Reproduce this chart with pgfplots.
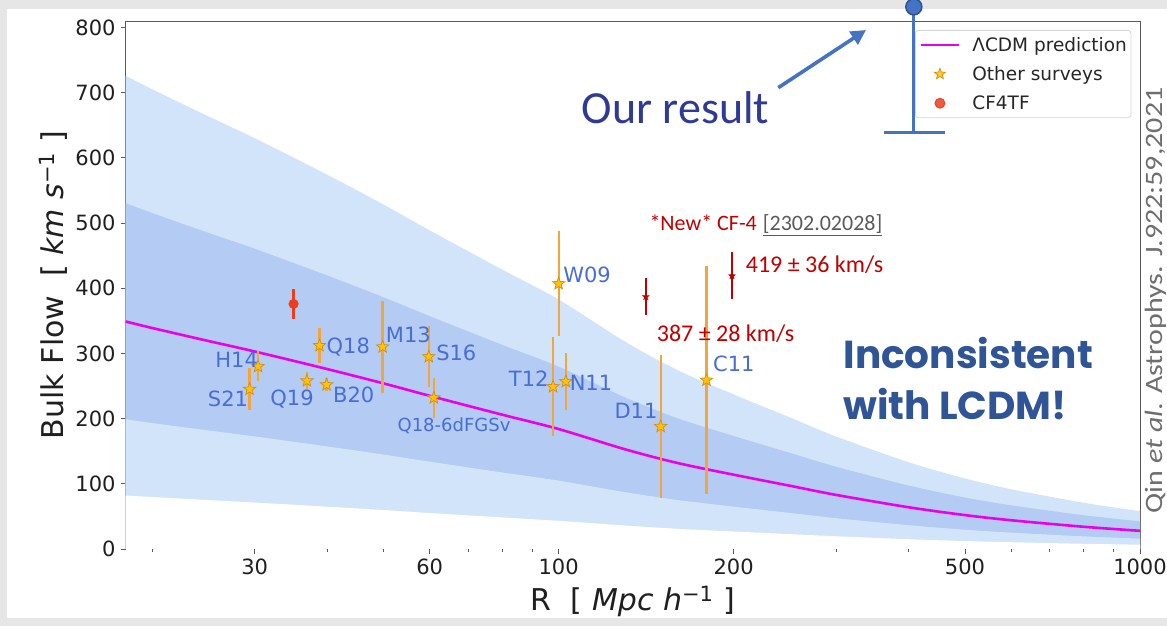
\documentclass[border=0pt]{standalone}
\usepackage{fontspec}
\usepackage{pgfplots}
\pgfplotsset{compat=1.18}
\usepackage{pgfplotstable}
\usetikzlibrary{arrows.meta}

\setmainfont{DejaVu Sans}
\newfontfamily\calibri{Carlito}
\newfontfamily\poster{Poppins}
\newcommand\fs[1]{\fontsize{#1}{#1}\selectfont}

\definecolor{bandout}{RGB}{209,228,250}
\definecolor{bandin}{RGB}{180,203,243}
\definecolor{lcdm}{RGB}{235,0,235}
\definecolor{errorange}{RGB}{243,165,60}
\definecolor{stargold}{RGB}{255,196,0}
\definecolor{staredge}{RGB}{214,140,20}
\definecolor{cffour}{RGB}{236,62,30}
\definecolor{newred}{RGB}{192,0,0}
\definecolor{labblue}{RGB}{72,110,214}
\definecolor{ourblue}{RGB}{68,114,196}
\definecolor{ouredge}{RGB}{47,82,143}
\definecolor{ourtext}{RGB}{46,58,150}
\definecolor{slogan}{RGB}{47,85,151}
\definecolor{framegray}{RGB}{230,230,230}
\definecolor{citegray}{RGB}{110,110,110}
\definecolor{linkgray}{RGB}{90,90,90}

% filled five-pointed star
\pgfdeclareplotmark{fivestar}{%
  \pgfpathmoveto{\pgfpointpolar{90}{\pgfplotmarksize}}%
  \pgfpathlineto{\pgfpointpolar{126}{0.42*\pgfplotmarksize}}%
  \pgfpathlineto{\pgfpointpolar{162}{\pgfplotmarksize}}%
  \pgfpathlineto{\pgfpointpolar{198}{0.42*\pgfplotmarksize}}%
  \pgfpathlineto{\pgfpointpolar{234}{\pgfplotmarksize}}%
  \pgfpathlineto{\pgfpointpolar{270}{0.42*\pgfplotmarksize}}%
  \pgfpathlineto{\pgfpointpolar{306}{\pgfplotmarksize}}%
  \pgfpathlineto{\pgfpointpolar{342}{0.42*\pgfplotmarksize}}%
  \pgfpathlineto{\pgfpointpolar{18}{\pgfplotmarksize}}%
  \pgfpathlineto{\pgfpointpolar{54}{0.42*\pgfplotmarksize}}%
  \pgfpathclose
  \pgfusepathqfillstroke
}

% LCDM expectation and its 1- and 2-sigma ranges
\pgfplotstableread{
R    V     lo2   lo1    hi1    hi2
18   349   82.0  198.9  530.5  725.9
20   339   79.7  193.2  515.3  705.1
25   319   75.0  181.8  484.9  663.5
30   303   71.2  172.7  460.6  630.2
40   276   64.9  157.3  419.5  574.1
50   254   59.7  144.8  386.1  528.3
60   235   55.2  134.0  357.2  488.8
80   206   48.4  117.4  313.1  428.5
100  184   43.2  104.9  279.7  382.7
130  153   36.0  87.2   232.6  318.2
160  132   31.0  75.2   200.6  274.6
200  114   26.8  65.0   173.3  237.1
250  97    22.8  55.3   147.4  201.8
300  83    19.5  47.3   126.2  172.6
400  64    15.0  36.5   97.3   133.1
500  52    12.2  29.6   79.0   108.2
600  44.1  10.4  25.1   67.0   91.7
800  34.1  8.0   19.4   51.8   70.9
1000 27.9  6.6   15.9   42.4   58.0
}\bandtab

% published bulk flow measurements
\pgfplotstableread{
R     V    err
29.4  245  32
30.4  280  23
36.9  258  13
38.8  312  27
39.9  252  10
49.8  310  70
59.8  295  47
61.0  232  31
97.8  249  76
100   407  81
102.9 257  44
149.8 188  110
179.6 259  175
}\surveytab

\begin{document}
\begin{tikzpicture}
\begin{scope}[x=1pt,y=-1pt,shift={(0pt,626pt)}]
  \fill[framegray] (0,0) rectangle (1167,626);
  \fill[white] (7.3,9) rectangle (1167,618.3);
\end{scope}

\begin{axis}[
  at={(125.7pt,77pt)}, anchor=south west,
  scale only axis, width=1014.3pt, height=528pt,
  xmode=log, xmin=18, xmax=1000, ymin=0, ymax=810,
  clip=false,
  axis line style={black!65, line width=1pt},
  xtick={30,60,100,200,500,1000},
  xticklabels={30,60,100,200,500,1000},
  minor xtick={20,40,50,70,80,90,300,400,600,700,800,900},
  ytick={0,100,...,800},
  tick align=outside, xtick pos=bottom, ytick pos=left,
  major tick length=5pt, minor tick length=3pt,
  tick style={black!65, line width=0.9pt},
  ticklabel style={font=\fs{21}, text=black!88},
  /pgf/number format/assume math mode=true,
  yticklabel style={anchor=east, inner sep=0pt, xshift=-5pt},
  xticklabel style={anchor=north, inner sep=0pt, yshift=-5pt},
  xlabel={R\ \ [\ \textit{Mpc h}\textsuperscript{−1}\ ]},
  ylabel={Bulk Flow\ \ [\ \textit{km s}\textsuperscript{−1}\ ]},
  label style={font=\fs{30}, text=black!88},
  xlabel style={at={(axis description cs:0.5,-0.1169)}, anchor=base},
  ylabel style={at={(axis description cs:-0.0615,0.5)}, anchor=base},
  legend cell align=left,
  legend style={at={(rel axis cs:0.7782,0.983)}, anchor=north west,
    draw={rgb,255:red,215;green,215;blue,215}, line width=0.8pt,
    rounded corners=3pt, fill=white, fill opacity=0.85, text opacity=1,
    draw opacity=1, font=\fs{18.5}, text=black!85,
    inner xsep=4pt, inner ysep=7.7pt, row sep=15.7pt, column sep=0pt,
    nodes={inner sep=0pt, text height=13.5pt, text depth=0pt}},
]
  % cosmic-variance bands, stacked from the top down
  \addplot[fill=bandout, draw=none, smooth, forget plot] table[x=R,y=hi2]{\bandtab} \closedcycle;
  \addplot[fill=bandin, draw=none, smooth, forget plot] table[x=R,y=hi1]{\bandtab} \closedcycle;
  \addplot[fill=bandout, draw=none, smooth, forget plot] table[x=R,y=lo1]{\bandtab} \closedcycle;
  \addplot[fill=white, draw=none, smooth, forget plot] table[x=R,y=lo2]{\bandtab} \closedcycle;

  % LCDM prediction
  \addplot[lcdm, line width=2.6pt, smooth,
    legend image code/.code={\path[draw=none, fill=none] (0pt,-5pt) rectangle (51.7pt,5pt);
      \draw[lcdm, line width=2.6pt, sharp corners] (0pt,0pt) -- (38.3pt,0pt);}]
    table[x=R,y=V]{\bandtab};
  \addlegendentry{ΛCDM prediction}

  % other surveys
  \addplot[forget plot, only marks, mark=none,
    error bars/.cd, y dir=both, y explicit, error mark=none,
    error bar style={draw=errorange, line width=2.3pt}]
    table[x=R,y=V,y error=err]{\surveytab};
  \addplot[only marks, mark=fivestar, mark size=6.5pt,
    mark options={fill=stargold, draw=staredge, line width=0.7pt, sharp corners},
    legend image code/.code={\path[draw=none, fill=none] (0pt,-5pt) rectangle (51.7pt,5pt);
      \draw[staredge, fill=stargold, line width=0.6pt, sharp corners, only marks,
        mark=fivestar, mark size=5.8pt] plot coordinates {(19.2pt,0pt)};}]
    table[x=R,y=V]{\surveytab};
  \addlegendentry{Other surveys}

  % CF4 Tully-Fisher
  \addplot[cffour, only marks, mark=*, mark size=4.8pt,
    mark options={fill=cffour, draw=cffour},
    legend image code/.code={\path[draw=none, fill=none] (0pt,-5pt) rectangle (51.7pt,5pt);
      \draw[cffour, fill=cffour, only marks, mark=*, mark size=5pt]
        plot coordinates {(19.2pt,0pt)};},
    error bars/.cd, y dir=both, y explicit, error mark=none,
    error bar style={draw=cffour, line width=2.3pt}]
    coordinates {(35,376) +- (0,23)};
  \addlegendentry{CF4TF}

  % new CF-4 results
  \addplot[forget plot, only marks, mark=fivestar, mark size=3.6pt,
    mark options={fill=newred, draw=newred, sharp corners},
    error bars/.cd, y dir=both, y explicit, error mark=none,
    error bar style={draw=newred, line width=2pt}]
    coordinates {(141.2,387) +- (0,28) (198.7,419) +- (0,36)};

  % our result
  \addplot[forget plot, ourblue, line width=2.7pt] coordinates {(408.3,639.1) (408.3,831.7)};
  \addplot[forget plot, ourblue, line width=2.7pt] coordinates {(363.0,639.1) (461.7,639.1)};
  \addplot[forget plot, only marks, mark=*, mark size=8pt,
    mark options={fill=ourblue, draw=ouredge, line width=1.5pt}]
    coordinates {(408.3,831.7)};
\end{axis}

\begin{scope}[x=1pt,y=-1pt,shift={(0pt,626pt)}]
  \begin{scope}[every node/.style={inner sep=0pt, text=labblue, font=\fs{21}}]
    \node at (236.7,359.5) {H14};
    \node at (228.0,398.7) {S21};
    \node at (292.0,399.5) {Q19};
    \node at (353.7,395.0) {B20};
    \node at (348.3,347.5) {Q18};
    \node at (408.3,335.0) {M13};
    \node at (456.3,352.8) {S16};
    \node[font=\fs{18}] at (454.0,425.8) {Q18-6dFGSv};
    \node at (587.0,274.7) {W09};
    \node at (528.7,379.2) {T12};
    \node at (591.0,382.5) {N11};
    \node at (636.0,410.8) {D11};
    \node at (733.8,363.7) {C11};
  \end{scope}

  \node[anchor=base west, inner sep=0pt, font=\calibri\fs{22}, text=newred] at (649.3,231)
    {*New* CF-4};
  \node[anchor=base west, inner sep=0pt, font=\calibri\fs{22}, text=linkgray] at (762.7,231)
    {\underline{[2302.02028]}};
  \node[anchor=base west, inner sep=0pt, font=\calibri\fs{24}, text=newred] at (745.7,272.5)
    {419 ± 36 km/s};
  \node[anchor=base west, inner sep=0pt, font=\calibri\fs{24}, text=newred] at (656.7,341.7)
    {387 ± 28 km/s};

  \node[anchor=base west, inner sep=0pt, font=\calibri\fs{46}, text=ourtext] at (581.7,123.3)
    {Our result};
  \draw[ourblue, line width=3.6pt, -{Triangle[length=15pt, width=15pt]}]
    (778.3,87.7) -- (866,30);

  \node[anchor=base west, inner sep=0pt, font=\poster\bfseries\fs{39}, text=slogan]
    at (843.3,368.3) {Inconsistent};
  \node[anchor=base west, inner sep=0pt, font=\poster\bfseries\fs{39}, text=slogan]
    at (843.3,420) {with LCDM!};

  \node[rotate=90, anchor=base, inner sep=0pt, font=\calibri\fs{25}, text=citegray]
    at (1162,300.5) {\scalebox{1.2}[1]{Qin \textit{et al}. Astrophys. J.922:59,2021}};
\end{scope}

% page is exactly the slide area
\pgfresetboundingbox
\path (0pt,0pt) rectangle (1167pt,626pt);
\end{tikzpicture}
\end{document}
